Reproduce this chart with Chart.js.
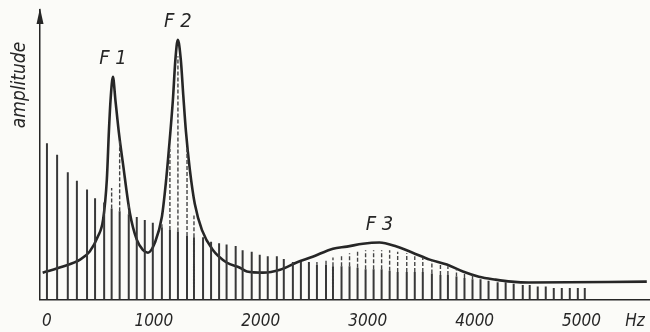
<!DOCTYPE html>
<html>
<head>
<meta charset="utf-8">
<script src="https://cdn.jsdelivr.net/npm/chart.js@4.4.1/dist/chart.umd.min.js"></script>
<style>
  body { margin: 0; background: #fbfbf8; }
  #wrap { width: 650px; height: 332px; }
</style>
</head>
<body>
<div id="wrap"><canvas id="formants"></canvas></div>
<script>
// harmonics of the source (Hz) and their heights
const harmonicHz = [0, 95, 195, 280, 375, 450, 535, 605, 680, 765,
  840, 915, 990, 1075, 1150, 1225, 1310, 1375, 1460, 1535,
  1610, 1680, 1765, 1830, 1915, 1990, 2065, 2150, 2215, 2300,
  2375, 2450, 2525, 2610, 2675, 2755, 2830, 2905, 2980, 3055,
  3130, 3205, 3280, 3365, 3440, 3515, 3600, 3680, 3750, 3830,
  3905, 3980, 4055, 4130, 4215, 4290, 4365, 4450, 4515, 4590,
  4665, 4740, 4815, 4890, 4965, 5030]
const sourceAmp = [54, 50, 44, 41, 38, 35, 33.5, 31.5, 30.5, 29.5,
  28.5, 27.5, 26.5, 25, 24, 23.5, 22, 21.5, 21.5, 20,
  19.5, 19, 18.5, 17, 16.5, 15.5, 15, 15, 14, 13,
  13, 13, 12, 12, 11.5, 11.5, 11.5, 11, 10.5, 10.5,
  10.5, 10, 9.5, 9.5, 9.5, 9.5, 9, 8.5, 8.5, 8,
  7.5, 7, 7, 6.5, 6, 6, 5.5, 5, 5, 4.5,
  4.5, 4, 4, 4, 4, 4]
// filtered harmonics (dashed part above the source line)
const outputAmp = [null, null, null, null, null, null, null, 38.5, 55, 33,
  null, null, null, 26, 52, 84, 52, 29, null, null,
  null, null, null, null, null, null, null, null, null, null,
  null, null, 13, 14, 14.5, 15.5, 16, 16.5, 17, 17,
  17, 17, 16.5, 16, 15, 14.5, 13.5, 12.5, 11.5, 10.5,
  9.5, 8.5, null, null, null, null, null, null, null, null,
  null, null, null, null, null, null]

// resonance curve
const envelopeHz = [-40, 150, 310, 400, 475, 525, 560, 580, 595, 617, 640, 673, 710, 775,
  840, 897, 945, 1010, 1075, 1112, 1140, 1178, 1201, 1224, 1252, 1276, 1300, 1336,
  1383, 1450, 1550, 1680, 1805, 1870, 2020, 2180, 2335, 2485, 2675, 2805, 2955,
  3110, 3270, 3420, 3580, 3740, 3890, 4040, 4195, 4345, 4505, 5610]
const envelopeAmp = [9.3, 11.4, 13.8, 16.6, 21.7, 27.6, 41.4, 58.6, 69, 76.9, 69, 57.6, 47.2, 30,
  20.7, 17.2, 16.2, 19.7, 28.6, 40.3, 51.7, 69, 82.8, 89.7, 82.8, 70, 58, 45,
  33, 24, 17.2, 12.8, 11, 9.7, 9.3, 10.3, 12.8, 14.8, 17.6, 18.3, 19.3,
  19.7, 18.3, 16.2, 13.8, 12.1, 9.7, 7.9, 6.9, 6.2, 5.9, 6.2]

const formantNames = ['F 1', 'F 2', 'F 3']
const formantHz = [617, 1224, 3110]
const formantAmp = [76.9, 89.7, 19.7]

const tickHz = [0, 1000, 2000, 3000, 4000, 5000]

const ink = '#262626'
const fontFamily = '"Liberation Sans Narrow", "DejaVu Sans Condensed", "Liberation Sans", sans-serif'

const solidPts = []
const dashPts = []
harmonicHz.forEach((f, i) => {
  solidPts.push({ x: f, y: 0 }, { x: f, y: sourceAmp[i] }, { x: f, y: null })
  if (outputAmp[i] !== null) {
    dashPts.push({ x: f, y: sourceAmp[i] }, { x: f, y: outputAmp[i] }, { x: f, y: null })
  }
})
const envelopePts = envelopeHz.map((f, i) => ({ x: f, y: envelopeAmp[i] }))

const decorations = {
  id: 'decorations',
  afterDraw(chart) {
    const { ctx, chartArea, scales } = chart
    const x = scales.x
    const y = scales.y
    ctx.save()
    ctx.fillStyle = ink
    // arrow on the amplitude axis
    ctx.beginPath()
    ctx.moveTo(chartArea.left, chartArea.top - 2)
    ctx.lineTo(chartArea.left - 3.5, chartArea.top + 14)
    ctx.lineTo(chartArea.left + 3.5, chartArea.top + 14)
    ctx.closePath()
    ctx.fill()
    // formant labels
    ctx.font = 'italic 20px ' + fontFamily
    ctx.textAlign = 'center'
    ctx.textBaseline = 'bottom'
    formantNames.forEach((name, i) => {
      ctx.fillText(name, x.getPixelForValue(formantHz[i]), y.getPixelForValue(formantAmp[i]) - 8)
    })
    // unit after the last tick
    ctx.font = 'italic 17px ' + fontFamily
    ctx.textBaseline = 'middle'
    ctx.fillText('Hz', 635, 322)
    // axis name
    ctx.translate(20, 85)
    ctx.rotate(-Math.PI / 2)
    ctx.font = 'italic 19px ' + fontFamily
    ctx.fillText('amplitude', 0, 0)
    ctx.restore()
  }
}

new Chart(document.getElementById('formants'), {
  type: 'line',
  data: {
    datasets: [
      {
        label: 'source',
        data: solidPts,
        borderColor: '#383838',
        borderWidth: 2,
        pointRadius: 0,
        spanGaps: false
      },
      {
        label: 'output',
        data: dashPts,
        borderColor: '#444',
        borderWidth: 1.4,
        borderDash: [4, 2],
        pointRadius: 0,
        spanGaps: false
      },
      {
        label: 'envelope',
        data: envelopePts,
        borderColor: ink,
        borderWidth: 2.6,
        pointRadius: 0,
        cubicInterpolationMode: 'monotone'
      }
    ]
  },
  options: {
    responsive: true,
    maintainAspectRatio: false,
    animation: false,
    layout: { padding: { left: 40, top: 10, right: 0, bottom: 0 } },
    plugins: {
      legend: { display: false },
      tooltip: { enabled: false }
    },
    scales: {
      x: {
        type: 'linear',
        min: -65,
        max: 5640,
        afterBuildTicks: (scale) => { scale.ticks = tickHz.map(v => ({ value: v })) },
        grid: { display: false, drawTicks: true, tickLength: 12 },
        border: { display: true, color: ink, width: 1.5 },
        ticks: {
          color: ink,
          font: { family: fontFamily, size: 17, style: 'italic' },
          padding: 0,
          maxRotation: 0,
          autoSkip: false,
          callback: (v) => String(v)
        }
      },
      y: {
        min: 0,
        max: 100,
        grid: { display: false, drawTicks: false },
        border: { display: true, color: ink, width: 1.5 },
        ticks: { display: false }
      }
    }
  },
  plugins: [decorations]
})
</script>
</body>
</html>
